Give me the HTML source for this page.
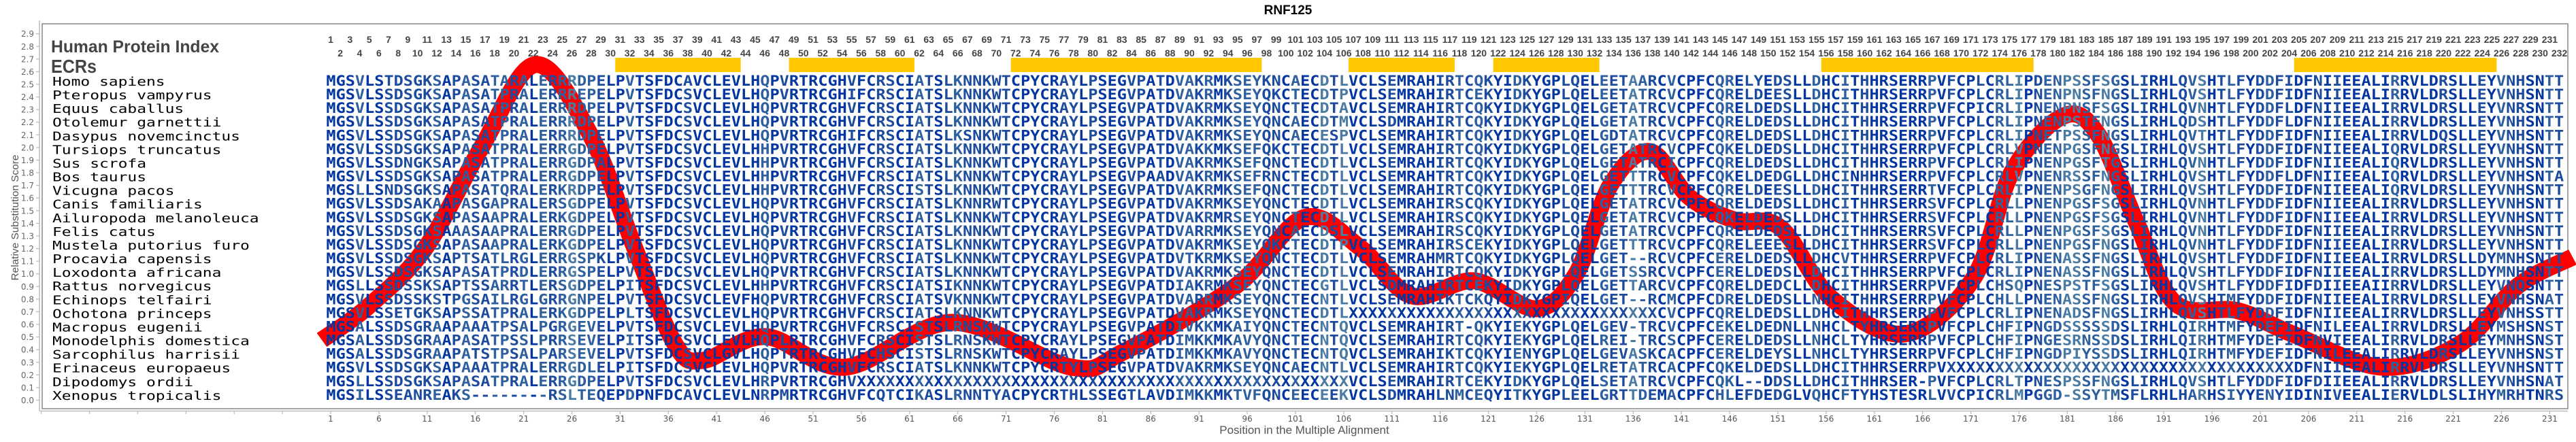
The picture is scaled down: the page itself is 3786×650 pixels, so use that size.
<!DOCTYPE html>
<html><head><meta charset="utf-8">
<style>
html,body{margin:0;padding:0;background:#fff;}
svg{display:block;}
</style></head>
<body>
<svg id="c" xmlns="http://www.w3.org/2000/svg" width="3786" height="650" viewBox="0 0 3786 650">
<rect x="0" y="0" width="3786" height="650" fill="#fff"/>
<text x="1893" y="21" font-family="Liberation Sans, sans-serif" font-weight="bold" font-size="19" text-anchor="middle" fill="#000">RNF125</text>
<rect x="62" y="35" width="3712" height="566" fill="none" stroke="#888" stroke-width="1.5"/>
<line x1="58" y1="30" x2="58" y2="604" stroke="#bbb" stroke-width="1.5"/>
<line x1="58" y1="604.5" x2="3774" y2="604.5" stroke="#bbb" stroke-width="1.5"/>
<g id="yax" font-family="DejaVu Sans, sans-serif" font-size="12" fill="#666" text-anchor="end"></g>
<g id="xax" font-family="DejaVu Sans, sans-serif" font-size="12" fill="#555" text-anchor="middle"></g>
<text transform="translate(27,320) rotate(-90)" font-family="Liberation Sans, sans-serif" font-size="15" fill="#555" text-anchor="middle" textLength="185" lengthAdjust="spacingAndGlyphs">Relative Substitution Score</text>
<text x="1917" y="638" font-family="Liberation Sans, sans-serif" font-size="17" fill="#555" text-anchor="middle">Position in the Multiple Alignment</text>
<text x="75" y="77" font-family="Liberation Sans, sans-serif" font-weight="bold" font-size="25" fill="#444" textLength="247" lengthAdjust="spacingAndGlyphs">Human Protein Index</text>
<text x="75" y="107" font-family="Liberation Sans, sans-serif" font-weight="bold" font-size="28" fill="#444" textLength="67" lengthAdjust="spacingAndGlyphs">ECRs</text>
<g id="nums" font-family="Liberation Sans, sans-serif" font-weight="bold" font-size="14" fill="#444" text-anchor="middle"></g>
<g id="bars" fill="#ffc800"></g>
<g id="names" font-family="DejaVu Sans Mono, Liberation Mono, monospace" font-size="18" fill="#000"></g>
<path id="curve" fill="none" stroke="#ff0000" stroke-width="25" stroke-linejoin="round"/>
<g id="seqs" font-family="DejaVu Sans Mono, Liberation Mono, monospace" font-weight="bold" font-size="21.5"></g>
</svg>
<script>
(function(){
var NS="http://www.w3.org/2000/svg";
function el(t,a,txt){var e=document.createElementNS(NS,t);for(var k in a)e.setAttribute(k,a[k]);if(txt!=null)e.textContent=txt;return e;}
var X0=486,CW=14.18;
function cx(c){return X0+(c-1)*CW;}
// y axis
var ya=document.getElementById('yax');
for(var i=0;i<=29;i++){var y=588.5-i*18.58;
 ya.appendChild(el('text',{x:50,y:y+4.5},(i/10).toFixed(1)));
 ya.appendChild(el('line',{x1:53,y1:y,x2:58,y2:y,stroke:'#bbb','stroke-width':1.2}));}
// x axis
var xa=document.getElementById('xax');
for(var c=1-5*6;c<=232;c+=5){var x=cx(c);
 xa.appendChild(el('line',{x1:x,y1:604,x2:x,y2:609,stroke:'#bbb','stroke-width':1.2}));
 if(c>=1)xa.appendChild(el('text',{x:x,y:620},String(c)));}
// top numbers
var nm=document.getElementById('nums');
for(var c=1;c<=232;c++){nm.appendChild(el('text',{x:cx(c),y:(c%2?63:83)},String(c)));}
// bars
var bars=[[31,43],[49,61],[72,97],[107,117],[122,132],[156,177],[205,225]];
var bg=document.getElementById('bars');
bars.forEach(function(b){bg.appendChild(el('rect',{x:cx(b[0])-CW/2,y:85,width:(b[1]-b[0]+1)*CW,height:21}));});
var names=["Homo sapiens","Pteropus vampyrus","Equus caballus","Otolemur garnettii","Dasypus novemcinctus","Tursiops truncatus","Sus scrofa","Bos taurus","Vicugna pacos","Canis familiaris","Ailuropoda melanoleuca","Felis catus","Mustela putorius furo","Procavia capensis","Loxodonta africana","Rattus norvegicus","Echinops telfairi","Ochotona princeps","Macropus eugenii","Monodelphis domestica","Sarcophilus harrisii","Erinaceus europaeus","Dipodomys ordii","Xenopus tropicalis"];
var A=["MGSVLSTDSGKSAPASATARALERRRDPELPVTSFDCAVCLEVLHQPVRTRCGHVFCRSCIATSLKNNKWTCPYCRAYLPSEG",
"MGSVLSSDSGKSAPASATPRALERRREPELPVTSFDCSVCLEVLHQPVRTRCGHIFCRSCIATSLKNNKWTCPYCRAYLPSEG",
"MGSVLSSDSGKSAPASATPRALERRRDPELPVTSFDCSVCLEVLHQPVRTRCGHVFCRSCIATSLKNNKWTCPYCRAYLPSEG",
"MGSVLSSDSGKSAPASATPRALERRRDPELPVTSFDCSVCLEVLHQPVRTRCGHVFCRSCIATSLKNNKWTCPYCRAYLPSEG",
"MGSVLSSDSGKSAPASATPRALERRRDPELPVTSFDCSVCLEVLHQPVRTRCGHIFCRSCIATSLKSNKWTCPYCRAYLPSEG",
"MGSVLSSDSGKSAPASATPRALERRGDPELPVTSFDCSVCLEVLHHPVRTRCGHVFCRSCIATSLKNNKWTCPYCRAYLPSEG",
"MGSVLSSDNGKSAPASATPRALERRGDPALPVTSFDCSVCLEVLHHPVRTRCGHVFCRSCIATSLKNNKWTCPYCRAYLPSEG",
"MGSVLSSDSGKSAPASATPRALERRGDPELPVTSFDCSVCLEVLHHPVRTRCGHVFCRSCIATSLKNNKWTCPYCRAYLPSEG",
"MGSLLSNDSGKSAPASATQRALERKRDPELPVTSFDCSVCLEVLHHPVRTRCGHVFCRSCISTSLKNNKWTCPYCRAYLPSEG",
"MGSVLSSDSAKAAPASGAPRALERSGDPELPVTSFDCSVCLEVLHQPVRTRCGHVFCRSCIATSLKNNRWTCPYCRAYLPSEG",
"MGSVLSSDSGKSAPASAAPRALERKGDPELPVTSFDCSVCLEVLHQPVRTRCGHVFCRSCIATSLKNNKWTCPYCRAYLPSEG",
"MGSVLSSDSGKSAAASAAPRALERRGDPELPVTSFDCSVCLEVLHQPVRTRCGHVFCRSCIATSLKNNKWTCPYCRAYLPSEG",
"MGSVLSSDSGKSAPASAAPRALERKGDPELPVTSFDCSVCLEVLHQPVRTRCGHVFCRSCIATSLKNNKWTCPYCRAYLPSEG",
"MGSVLSSDSGKSAPTSATLRGLERRGSPKLPVTSFDCSVCLEVLHQPVRTRCGHVFCRSCIATSLKNNKWTCPYCRAYLPSEG",
"MGSVLSSDSGKSAPASATPRDLERRGSPELPVTSFDCSVCLEVLHQPVRTRCGHVFCRSCIATSLKNNKWTCPYCRAYLPSEG",
"MGSLLSSDSSKSAPTSSARRTLERSGDPELPITSFDCSVCLEVLHHPVRTRCGHVFCRSCIATSIKNNKWTCPYCRAYLPSEG",
"MGSVLSSDSSKSTPGSAILRGLGRRGNPELPVTSFDCSVCLEVFHQPVRTRCGHVFCRSCIATSVKNNKWTCPYCRAYLPSEG",
"MGSVLSSETGKSAPSSATPRALERKGDPELPLTSFDCSVCLEVLHQPVRTRCGHVFCRSCIATSLKNNKWTCPYCRAYLPSEG",
"MGSALSSDSGRAAPAAATPSALPGRGEVELPVTSFDCSVCLEVLHQPVRTRCGHVFCRSCISTSLRNSKWTCPYCRAYLPSEG",
"MGSALSSDSGRAAPASATPSSLPRRSEVELPITSFDCSVCLEVLHQPLRTRCGHVFCRSCISTSLRNSKWTCPYCRAYLPSEG",
"MGSALSSDSGRAAPATSTPSALPARSEVELPVTSFDCSVCLGVLHQPTRTRCGHVFCHSCISTSLRNSKWTCPYCRAYLPSEG",
"MGSVLSSDSGKSAPAAATPRALERRGDLELPITSFDCSVCLEVLHQPVRTRCGHVFCRSCIATSLKNNKWTCPYCRTYLPSEG",
"MGSLLSSDSGKSAPASATPRALERRGDPELPVTSFDCSVCLEVLHRPVRTRCGHVXXXXXXXXXXXXXXXXXXXXXXXXXXXXX",
"MGSILSSEANREAKS--------RSLTEQEPDPNFDCAVCLEVLNRPMRTRCGHVFCQTCIKASLRNNTYACPYCRTHLSSEG"];
var X32="XXXXXXXXXXXXXXXXXXXXXXXXXXXXXXXX";
var B=["GVPATDVAKRMKSEYKNCAECDTLVCLSEMRAHIRTCQKYIDKYGPLQELEETAARCVCPFCQRELYEDSLLDHCITHHRSERRPVFCPLCR",
"GVPATDVAKRMKSEYQKCTECDTPVCLSEMRAHIRTCEKYIDKYGPLQELEETATRCVCPFCQRELDEESLLDHCITHHRSERRPVFCPLCR",
"GVPATDVAKRMKSEYQNCTECDTAVCLSEMRAHIRTCQKYIDKYGPLQELGETATRCVCPFCQRELDEDSLLDHCITHHRSERRPVFCPICR",
"GVPATDVAKRMKSEYQNCAECDTMVCLSDMRAHIRTCQKYIDKYGPLQELGETATRCVCPFCQRELDEDSLLDHCITHHRSERRPVFCPLCR",
"GVPATDVAKRMKSEYQNCAECESPVCLSEMRAHIRTCQKYIDKYGPLQELGDTATRCVCPFCQRELDEDSLLDHCITHHRSERRPVFCPLCR",
"GVPATDVAKKMKSEFQKCTECDTLVCLSEMRAHIRTCQKYIDKYGPLQELGETATRCVCPFCQKELDEDSLLDHCITHHRSERRPVFCPLCR",
"GVPATDVAKRMKSEFQNCTECDTLVCLSEMRAHIRTCQKYIDKYGPLQELGETATRCICPFCQRELDEDSLLDHCITHHRSERRPVFCPLCR",
"GVPAADVAKRMKSEFRNCTECDTLVCLSEMRAHTRTCQKYIDKYGPLQELGETTTRCVCPFCQKELDEDGLLDHCINHHRSERRPVFCPLCR",
"GVPATDVAKRMKSEFQNCTECDTLVCLSEMRAHIRTCQKYIDKYGPLQELGETTTRCVCPFCQRELDEESLLDHCITHHRSERRTVFCPLCR",
"GVPATDVAKRMKSEYQNCTECDTLVCLSEMRAHIRSCQKYIDKYGPLQELGETATRCVCPFCQRELDEDSLLDHCITHHRSERRSVFCPLCR",
"GVPATDVAKRMRSEYQNCTECDTLVCLSEMRAHIRSCQKYIDKYGPLQELGETATRCVCPFCQKELDEDSLLDHCITHHRSERRSVFCPLCR",
"GVPATDVARRMKSEYQNCAECDSLVCLSEMRAHIRSCQKYIDKYGPLQELGETATRCVCPFCQRELDEDSLLDHCITHHRSERRSVFCPLCR",
"GVPATDVAKRMKSEYQKCTECDTPVCLSEMRAHIRSCEKYIDKYGPLQELGETTTRCVCPFCQRELEEESLLDHCITHHRSERRSVFCPLCR",
"GVPATDVTKRMKSEYQNCTECDTLVCLSEMRAHMRTCQKYIDKYGPLQELGET--RCVCPFCERELDEDSLLDHCVTHHRSERRPVFCPLCR",
"GVPATDVAKRMKSEYQNCTECDTLVCLSEMRAHIRTCQKYIDKYGPLQELGETSSRCVCPFCERELDEDSLLDHCITHHRSERRPVFCPLCR",
"GVPATDIAKRMKSEYQNCTECGTLVCLSDMRAHIRTCEKYIDKYGPLQELGETTARCVCPFCQRELDEDCLLDHCITHHRSERRPVFCPLCH",
"GVPATDVARRMKSEYQNCTECNTLVCLSEMRAHIKTCKQYIDKYGPIQELGET--RCMCPFCDRELDEDSLLNHCITHHRSERRPVFCPLCH",
"GVPATDVAKRMKSEYQNCTECDTL"+X32+"CVCPFCQRELDEDSLLDHCITHHRSERRPVFCPLCR",
"GVPATDIVKKMKAIYQNCTECNTQVCLSEMRAHIRT-QKYIEKYGPLQELGEV-TRCVCPFCEKELDEDNLLNHCLTYHRSERRPVFCPLCH",
"GVPATDIMKKMKAVYQNCTECNTQVCLSEMRAHIRTCQKYIEKYGPLQELREI-TRCSCPFCERELDEDSLLNHCLTYHRSERRPVFCPLCH",
"GVPATDIMKKMKAVYQNCTECNTQVCLSEMRAHIKTCQKYIENYGPLQELGEVASKCACPFCERELDEYSLLNHCLTYHRSERRPVFCPLCH",
"GVPATDVAKRMKSEYQNCAECNTLVCLSEMRAHIRTCQKYIEKYGPLQELRETATRCACPFCQKELDEDSLLDHCITHHRSERRPVXXXXXX",
"XXXXXXXXXXXXXXXXXXXXXXXXVCLSEMRAHIRTCEKYIDKYGPLQELSETATRCVCPFCQKL--DDSLLDHCITHHRSER-PVFCPLCR",
"GTLAVDIMKKMKTVFQNCEECEEKVCLSDMRAHLNMCEQYITKYGPLEELGRTTDEMACPFCHLEFDEDGLVQHCFTYHSTESRLVVCPICR"];
var C=["PLCRLIPDENPSSFSGSLIRHLQVSHTLFYDDFIDFNIIEEALIRRVLDRSLLEYVNHSNTT",
"PLCRLIPNENPNSFNGSLIRHLQVSHTLFYDDFIDFNIIEEALIRRVLDRSLLEYVNHSNTT",
"PICRLIPNENPNSFSGSLIRHLQVNHTLFYDDFLDFNIIEEALIRRVLDRSLLEYVNRSNTT",
"PLCRLIPNENPSTFNGSLIRHLQDSHTLFYDDFLDFNIIEEALIRRVLDRSLLEYVNHSNTT",
"PLCRLIPNETPSSFNGSLIRHLQVTHTLFYDDFIDFNIIEEALIRRVLDQSLLEYVNHSNTT",
"PLCRLVPNENPGSFNGSLIRHLQVSHTLFYDDFIDFNIIEEALIQRVLDRSLLEYVNHSNTT",
"PLCRLIPNENPGSFTGSLIRHLQVNHTLFYDDFIDFNIIEEALIQRVLDRSLLEYVNHSNTT",
"PLCRLVPNENRSSFNGSLIRHLQVSHTLFYDDFLDFNIIEEALIQRVLDRSLLEYVNHSNTA",
"PLCRLIPNENPSGFNGSLIRHLQVSHTLFYDDFIDFNIIEEALIQRVLDRSLLEYVNHSNTT",
"PLCRLLPNENPGSFSGSLIRHLQVNHTLFYDDFIDFNIIEEALIRRVLDRSLLEYVNHSNTT",
"PLCRLLPNENPGSFSGSLIRHLQVNHTLFYDDFIDFNIIEEALIRRVLDRSLLEYVNHSNTT",
"PLCRLLPNENPGSFSGSLIRHLQVNHTLFYDDFIDFNIIEEALIRRVLDRSLLEYVNHSNTT",
"PLCRLLPNENPGSFNGSLIRHLQVNHTLFYDDFIDFNIIEEALIRRVLDRSLLEYVNHSNTT",
"PLCRLIPNENASSFNGSLIRHLQVSHTLFYDDFIDFNIIEEALIRRVLDRSLLDYMNHSNTT",
"PLCRLIPNENASSFNGSLIRHLQVSHTLFYDDFIDFNIIEEALIRRVLDRSLLDYMNHSNTT",
"PLCHSQPNESPSTFSGSLIRHLQVSHTLFYDDFIDFDIIEEAIIRRVLDRSLLEYVNQSNTT",
"PLCHLLPNENASSFNGSLIRHLQVSHTMFYDDFIDFNIIEEALIRRVLDRSLLEYVNHSNAT",
"PLCRLIPNENADSFNGSLIRHLQVSHTLFYDDFIDFNIIEEALIRRVLDRSLLEYVNHSSTT",
"PLCHFIPNGDSSSSSDSLIRHLQIRHTMFYDEFIDFNILEEALIRRVLDRSLLEYMSHSNST",
"PLCHFIPNGESRNSSDSLIRHLQIRHTMFYDEFIDFNVIEEALIRRVLDRSLLEYMNHSNST",
"PLCHFIPNGDPIYSSDSLIRHLQIRHTMFYDEFIDFNILEEALIRRVLDRSLLEYVNHSNST",
"XXXXXXXXXXXXXXXXXXXXXXXXXXXXXXXXXXDFNIIEEALIRRVLDRSLLEYVNHSNTT",
"PLCRLTPNESPSSFNGSLIRHLQVSHTLFYDDFIDFDIIEEALIRRVLDRSLLEYVNHSNAT",
"PICRLMPGGD-SSYTMSFLRHLHARHSIYYENYIDINIVEEALIERVLDLSLIHYMRHTNRS"];
function fit(s,n){while(s.length<n)s+="X";return s.slice(0,n);}
var rows=[];
for(var r=0;r<24;r++){rows.push(fit(A[r],83)+fit(B[r].slice(1),87)+fit(C[r],62));}
// conservation per column
var cols=[];
for(var c=0;c<232;c++){var cnt={},mx=0;
 for(var r=0;r<24;r++){var ch=rows[r][c];if(ch==='X'||ch==='-')continue;cnt[ch]=(cnt[ch]||0)+1;if(cnt[ch]>mx)mx=cnt[ch];}
 var f=mx/24,col;
 if(f>=0.95)col='#0336a0';else if(f>=0.8)col='#1d4c9e';else if(f>=0.65)col='#2e5f9f';else if(f>=0.5)col='#4a7ba5';else col='#6e9ea2';
 cols.push(col);}
var ng=document.getElementById('names'),sg=document.getElementById('seqs');
for(var r=0;r<24;r++){var y=126+r*20.08;
 ng.appendChild(el('text',{x:77,y:y,textLength:names[r].length*13.8,lengthAdjust:'spacingAndGlyphs'},names[r]));
 var t=el('text',{x:X0-CW/2+0.5,y:y,textLength:232*CW-1,lengthAdjust:'spacingAndGlyphs'});
 var s=rows[r];var i=0;
 while(i<232){var j=i;while(j<232&&cols[j]===cols[i])j++;
  t.appendChild(el('tspan',{fill:cols[i]},s.slice(i,j)));i=j;}
 sg.appendChild(t);}
// curve
var P=[[473,500],[542,450],[625,365],[708,216],[787,95],[867,197],[933,365],[992,506],[1033,530],[1125,495],[1242,540],[1400,474],[1575,540],[1650,518],[1817,420],[1917,320],[2000,365],[2075,435],[2167,413],[2258,454],[2317,402],[2367,272],[2425,223],[2483,290],[2550,324],[2617,335],[2692,439],[2800,491],[2900,410],[2957,253],[3032,171],[3083,197],[3140,327],[3197,446],[3289,457],[3369,491],[3501,540],[3615,506],[3701,420],[3781,378]];
var d="M"+P[0][0]+","+P[0][1];
for(var k=0;k<P.length-1;k++){var p0=P[k>0?k-1:0],p1=P[k],p2=P[k+1],p3=P[k+2<P.length?k+2:k+1];
 var c1x=p1[0]+(p2[0]-p0[0])/6,c1y=p1[1]+(p2[1]-p0[1])/6,c2x=p2[0]-(p3[0]-p1[0])/6,c2y=p2[1]-(p3[1]-p1[1])/6;
 d+=" C"+c1x.toFixed(1)+","+c1y.toFixed(1)+" "+c2x.toFixed(1)+","+c2y.toFixed(1)+" "+p2[0]+","+p2[1];}
document.getElementById('curve').setAttribute('d',d);
})();
</script>
</body></html>
